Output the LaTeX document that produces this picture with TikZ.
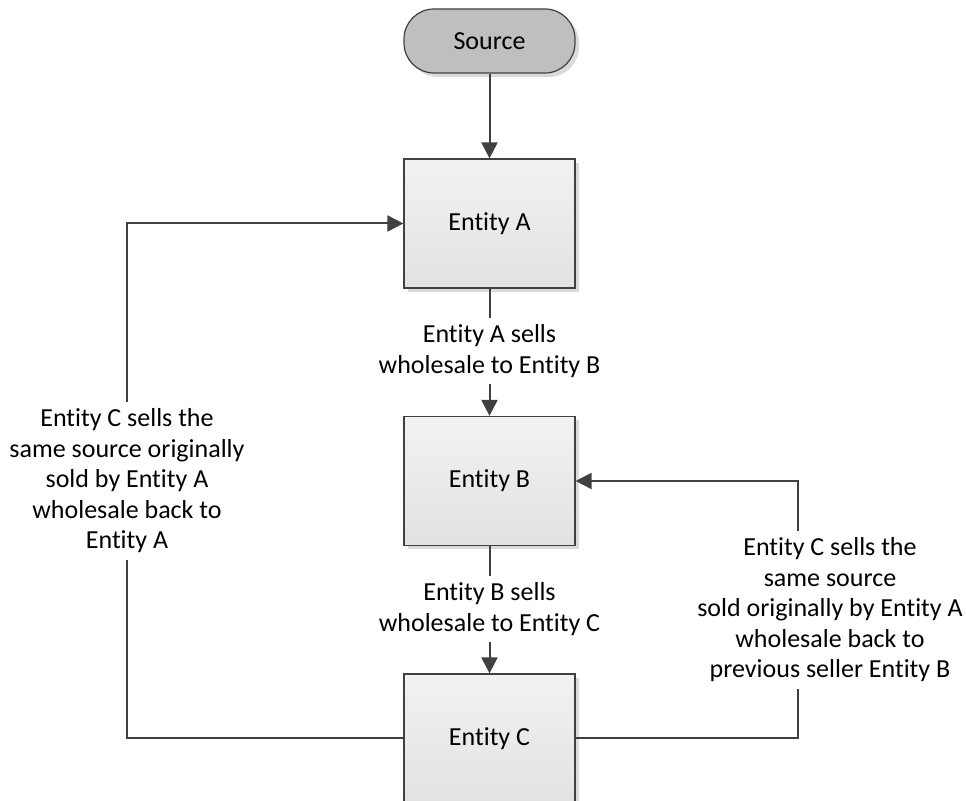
\documentclass[tikz,border=0pt]{standalone}
\usepackage{fontspec}
\setmainfont{Carlito}[Ligatures={NoCommon}]
\usetikzlibrary{arrows.meta,shadows}
\definecolor{ln}{HTML}{404040}
\definecolor{srcfill}{HTML}{BFBFBF}
\definecolor{boxtop}{HTML}{F2F2F2}
\definecolor{boxbot}{HTML}{E2E2E2}
\definecolor{shad}{HTML}{DADADA}
\begin{document}
\begin{tikzpicture}[x=0.5pt,y=-0.5pt,
  font=\fontsize{13}{15.25}\selectfont,
  entbox/.style={draw=ln, line width=0.6pt, minimum width=85.5pt, minimum height=64.5pt,
    top color=boxtop, bottom color=boxbot, inner sep=0pt,
    drop shadow={shadow xshift=2pt, shadow yshift=-2pt, fill=shad, opacity=1}},
  srcbox/.style={draw=ln, line width=0.6pt, minimum width=85.5pt, minimum height=32pt,
    fill=srcfill, rounded corners=15pt, inner sep=0pt,
    drop shadow={shadow xshift=2pt, shadow yshift=-2pt, fill=shad, opacity=1}},
  lbl/.style={align=center, inner xsep=2pt, inner ysep=3pt},
  conn/.style={draw=ln, line width=1pt},
  arr/.style={conn, -{Triangle[length=8pt,width=8pt]}}]
\useasboundingbox (0,0) rectangle (966,801);
\clip (0,0) rectangle (966,801);

\node[srcbox] (src) at (489.5,41) {Source};
\node[entbox] (A) at (489.5,223.5) {Entity A};
\node[entbox] (B) at (489.5,481) {Entity B};
\node[entbox] (C) at (489.5,738.5) {Entity C};

\node[lbl] (lab) at (489.5,351) {Entity A sells\\wholesale to Entity B};
\node[lbl] (lbc) at (489.5,609) {Entity B sells\\wholesale to Entity C};
\node[lbl] (lcl) at (127,481) {Entity C sells the\\same source originally\\sold by Entity A\\wholesale back to\\Entity A};
\node[lbl] (lcr) at (830,610) {Entity C sells the\\same source\\sold originally by Entity A\\wholesale back to\\previous seller Entity B};

\coordinate (rb) at (798,738.5);
\coordinate (rt) at (798,481);

\draw[arr] (src) -- (A);
\draw[conn] (A) -- (lab);
\draw[arr] (lab) -- (B);
\draw[conn] (B) -- (lbc);
\draw[arr] (lbc) -- (C);

\draw[conn] (C.west) -| (lcl);
\draw[arr] (lcl) |- (A.west);

\draw[conn] (C.east) -- (rb) -- (rb |- lcr.south);
\draw[arr] (rt |- lcr.north) -- (rt) -- (B.east);
\end{tikzpicture}
\end{document}
